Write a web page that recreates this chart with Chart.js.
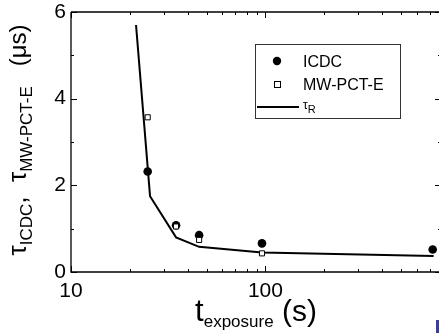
<!DOCTYPE html>
<html><head><meta charset="utf-8">
<script src="https://cdn.jsdelivr.net/npm/chart.js@4/dist/chart.umd.min.js"></script>
<style>
html,body{margin:0;padding:0;background:#fff;overflow:hidden;}
#wrap{position:relative;width:439px;height:333px;overflow:hidden;}
#c{position:absolute;left:0;top:0;}
#blue{position:absolute;left:436px;top:320px;width:3px;height:13px;background:#3c3ca6;}
</style></head>
<body><div id="wrap"><canvas id="c" width="446" height="333"></canvas><div id="blue"></div></div>
<script>
// Data
const icdcX = [24.8, 34.7, 45.6, 96, 725];
const icdcY = [2.32, 1.08, 0.85, 0.66, 0.52];
const mwX = [24.8, 34.7, 45.6, 96];
const mwY = [3.57, 1.05, 0.74, 0.43];
const tauX = [21.6, 25.5, 34.7, 45.6, 96, 733];
const tauY = [5.70, 1.75, 0.80, 0.58, 0.45, 0.37];
const xTickLabels = [10, 100];
const xMinorTicks = [20,30,40,50,60,70,80,90,200,300,400,500,600,700];
const yTickLabels = [0, 2, 4, 6];
const yMinorTicks = [1, 3, 5];
const legendLabels = ['ICDC', 'MW-PCT-E', 'τ', 'R'];

const FONT = "'Liberation Sans', Arial, sans-serif";
const pts = (xs, ys) => xs.map((x, i) => ({x, y: ys[i]}));

function drawRich(ctx, segs) {
  let w = 0;
  for (const s of segs) { ctx.font = s[1] + 'px ' + FONT; w += ctx.measureText(s[0]).width; }
  return w;
}
function paintRich(ctx, segs, x0, y0) {
  let x = x0;
  for (const s of segs) {
    ctx.font = s[1] + 'px ' + FONT;
    ctx.fillText(s[0], x, y0 + s[2]);
    x += ctx.measureText(s[0]).width;
  }
}

const decor = {
  id: 'decor',
  afterDraw(chart) {
    const ctx = chart.ctx, xs = chart.scales.x, ys = chart.scales.y, a = chart.chartArea;
    ctx.save();
    ctx.strokeStyle = '#000'; ctx.lineWidth = 1.3;
    ctx.beginPath();
    ctx.moveTo(a.left, a.top); ctx.lineTo(a.left, a.bottom); ctx.lineTo(a.right, a.bottom);
    ctx.lineTo(a.right, a.top); ctx.lineTo(a.left, a.top);
    ctx.stroke();
    ctx.lineWidth = 1;
    ctx.beginPath();
    const xt = (v, L) => { const p = Math.round(xs.getPixelForValue(v)) + 0.5;
      ctx.moveTo(p, a.bottom); ctx.lineTo(p, a.bottom - L); ctx.moveTo(p, a.top); ctx.lineTo(p, a.top + L); };
    const yt = (v, L) => { const p = Math.round(ys.getPixelForValue(v)) + 0.5;
      ctx.moveTo(a.left, p); ctx.lineTo(a.left + L, p); ctx.moveTo(a.right, p); ctx.lineTo(a.right - L, p); };
    xTickLabels.forEach(v => xt(v, 6)); xMinorTicks.forEach(v => xt(v, 3));
    yTickLabels.forEach(v => yt(v, 6)); yMinorTicks.forEach(v => yt(v, 3));
    ctx.stroke();

    // legend
    const lx = 255.5, ly = 44.5, lw = 145, lh = 74;
    ctx.strokeStyle = '#333'; ctx.lineWidth = 1;
    ctx.strokeRect(lx, ly, lw, lh);
    ctx.fillStyle = '#000';
    ctx.beginPath(); ctx.arc(277, 61, 4.2, 0, Math.PI * 2); ctx.fill();
    ctx.fillStyle = '#fff'; ctx.strokeStyle = '#000';
    ctx.fillRect(274, 81, 6, 6); ctx.strokeRect(274.5, 81.5, 6, 6);
    ctx.lineWidth = 2; ctx.beginPath(); ctx.moveTo(257, 107); ctx.lineTo(299, 107); ctx.stroke();
    ctx.fillStyle = '#000'; ctx.textBaseline = 'alphabetic'; ctx.textAlign = 'left';
    ctx.font = '16px ' + FONT;
    ctx.fillText(legendLabels[0], 303, 67);
    ctx.fillText(legendLabels[1], 303, 90);
    paintRich(ctx, [[legendLabels[2], 12, 0], [legendLabels[3], 11, 4]], 303, 109);

    // x title
    const xsegs = [['t', 31, 0], ['exposure', 17, 6], [' (s)', 30, 0]];
    const xw = drawRich(ctx, xsegs);
    paintRich(ctx, xsegs, 256 - xw / 2, 321);

    // y title (rotated)
    const ysegs = [['τ', 26, 0], ['ICDC', 17, 6], [',  τ', 26, 0], ['MW-PCT-E', 17, 6], ['   (μs)', 24, 0]];
    const yw = drawRich(ctx, ysegs);
    ctx.translate(26, 140);
    ctx.rotate(-Math.PI / 2);
    paintRich(ctx, ysegs, -yw / 2, 0);
    ctx.restore();
  }
};

new Chart(document.getElementById('c'), {
  type: 'scatter',
  data: {
    datasets: [
      { label: 'MW-PCT-E', data: pts(mwX, mwY), order: 0, pointStyle: 'rect', pointRadius: 3.6,
        backgroundColor: '#fff', borderColor: '#000', borderWidth: 1, showLine: false },
      { label: 'ICDC', data: pts(icdcX, icdcY), order: 1, pointStyle: 'circle', pointRadius: 4.3,
        backgroundColor: '#000', borderColor: '#000', borderWidth: 0, showLine: false },
      { label: 'τR', data: pts(tauX, tauY), order: 2, showLine: true, pointRadius: 0,
        borderColor: '#000', borderWidth: 2, tension: 0, fill: false }
    ]
  },
  options: {
    responsive: false, animation: false, events: [],
    layout: { padding: { top: 12, right: 2.5, left: 0, bottom: 0 } },
    plugins: { legend: { display: false }, tooltip: { enabled: false } },
    scales: {
      x: {
        type: 'logarithmic', min: 10, max: 800,
        grid: { display: false, drawTicks: false }, border: { display: false },
        afterBuildTicks: s => { s.ticks = xTickLabels.map(v => ({ value: v })); },
        afterFit: s => { s.height = 61; s.paddingLeft = 0; s.paddingRight = 0; },
        ticks: { color: '#000', font: { family: FONT, size: 21 }, padding: 7, maxRotation: 0,
          autoSkip: false, callback: v => String(v) }
      },
      y: {
        type: 'linear', min: 0, max: 6,
        grid: { display: false, drawTicks: false }, border: { display: false },
        afterBuildTicks: s => { s.ticks = yTickLabels.map(v => ({ value: v })); },
        afterFit: s => { s.width = 71; s.paddingTop = 0; s.paddingBottom = 0; },
        ticks: { color: '#000', font: { family: FONT, size: 21 }, padding: 5, callback: v => String(v) }
      }
    }
  },
  plugins: [decor]
});
</script></body></html>
